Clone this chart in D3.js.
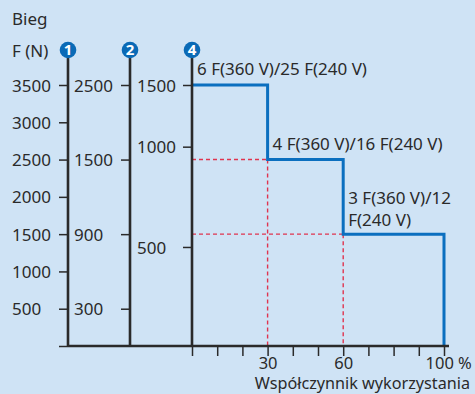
<!DOCTYPE html>
<html><head><meta charset="utf-8">
<script src="https://cdn.jsdelivr.net/npm/d3@7"></script>
<style>
html,body{margin:0;padding:0;background:#cfe3f5;}
svg{display:block;}
text{font-family:"Noto Sans",sans-serif;fill:#2a2a2a;}
</style></head><body>
<svg id="c" width="475" height="394"></svg>
<script>
// Data
const gears = ["1", "2", "4"];
const axis1Ticks = [0, 500, 1000, 1500, 2000, 2500, 3000, 3500];           // F (N), gear 1
const axis2Ticks = [300, 900, 1500, 2500];                                  // gear 2 labels
const axis2Equiv = [500, 1500, 2500, 3500];                                 // their position on F(N) scale
const axis4Ticks = [500, 1000, 1500];                                       // gear 4 labels
const axis4Equiv = [1328, 2673, 3500];                                      // their position on F(N) scale
const stepFrom   = [0, 30, 60];                                             // utilisation %
const stepTo     = [30, 60, 100];
const stepForce  = [3500, 2500, 1500];                                      // F (N)
const stepLabels = [["6 F(360 V)/25 F(240 V)"], ["4 F(360 V)/16 F(240 V)"], ["3 F(360 V)/12", "F(240 V)"]];
const xTicks = d3.range(0, 101, 10);
const xLabels = {30: "30", 60: "60", 100: "100 %"};

const svg = d3.select("#c");
const fs = 17;
const fmt = d3.format("d");
const yF = d3.scaleLinear().domain([0, 3500]).range([346, 85]);
const x = d3.scaleLinear().domain([0, 100]).range([192, 444]);
const gx = d3.scalePoint().domain(gears).range([68, 192]);
const y2 = d3.scaleLinear().domain([0].concat(axis2Ticks)).range([yF(0)].concat(axis2Equiv.map(yF)));
const y4 = d3.scaleLinear().domain(axis4Ticks).range(axis4Equiv.map(yF));

const ink = "#2a2a2a";

// red dashed guides
const guideG = svg.append("g");
[1, 2].forEach(i => {
  guideG.append("line").attr("x1", x(0)).attr("x2", x(stepFrom[i])).attr("y1", yF(stepForce[i])).attr("y2", yF(stepForce[i]));
  guideG.append("line").attr("x1", x(stepFrom[i])).attr("x2", x(stepFrom[i])).attr("y1", yF(stepForce[i])).attr("y2", yF(0));
});
guideG.selectAll("line").attr("stroke", "#e0344f").attr("stroke-width", 1.4).attr("stroke-dasharray", "4,3");

// step line
const pts = [];
stepFrom.forEach((f, i) => { pts.push([x(f), yF(stepForce[i])]); pts.push([x(stepTo[i]), yF(stepForce[i])]); });
pts.push([x(100), yF(0)]);
svg.append("path").attr("d", d3.line()(pts)).attr("fill", "none").attr("stroke", "#0b6fbf").attr("stroke-width", 3);

// gear axis lines
gears.forEach(g => {
  svg.append("line").attr("x1", gx(g)).attr("x2", gx(g)).attr("y1", 50).attr("y2", yF(0) + 1)
    .attr("stroke", ink).attr("stroke-width", 2.6);
});

function styleAxis(g, labelX) {
  g.select(".domain").remove();
  g.selectAll(".tick line").attr("stroke", ink).attr("stroke-width", 1.5);
  g.selectAll(".tick text").attr("text-anchor", "start").attr("x", labelX).attr("dy", "0.36em")
    .style("font-size", fs + "px").style("font-family", '"Noto Sans",sans-serif').attr("fill", ink);
}
// axis 1
const a1 = svg.append("g").attr("transform", `translate(${gx("1")},0)`)
  .call(d3.axisLeft(yF).tickValues(axis1Ticks).tickSize(9).tickFormat(d => d === 0 ? "" : fmt(d)));
styleAxis(a1, 12 - gx("1"));
// axis 2
const a2 = svg.append("g").attr("transform", `translate(${gx("2")},0)`)
  .call(d3.axisLeft(y2).tickValues(axis2Ticks).tickSize(9).tickFormat(fmt));
styleAxis(a2, 74 - gx("2"));
// axis 4
const a4 = svg.append("g").attr("transform", `translate(${gx("4")},0)`)
  .call(d3.axisLeft(y4).tickValues(axis4Ticks).tickSize(9).tickFormat(fmt));
styleAxis(a4, 137 - gx("4"));

// baseline
svg.append("line").attr("x1", gx("1")).attr("x2", x(100) + 5).attr("y1", yF(0)).attr("y2", yF(0))
  .attr("stroke", ink).attr("stroke-width", 2.6);

// x axis
const ax = svg.append("g").attr("transform", `translate(0,${yF(0)})`)
  .call(d3.axisBottom(x).tickValues(xTicks).tickSize(10).tickFormat(d => xLabels[d] || ""));
ax.select(".domain").remove();
ax.selectAll(".tick line").attr("stroke", ink).attr("stroke-width", 1.5);
ax.selectAll(".tick text").attr("y", 11).attr("dy", "0.71em").style("font-size", "16.5px")
  .style("font-family", '"Noto Sans",sans-serif').attr("fill", ink)
  .attr("text-anchor", d => d === 100 ? "start" : "middle").attr("x", d => d === 100 ? -19 : 0);

svg.append("text").attr("x", 470).attr("y", 389).attr("text-anchor", "end").style("font-size", "16.2px")
  .text("Współczynnik wykorzystania");

// headers
svg.append("text").attr("x", 12).attr("y", 25).style("font-size", fs + "px").text("Bieg");
svg.append("text").attr("x", 12).attr("y", 56.5).style("font-size", fs + "px").text("F (N)");

// gear badges
gears.forEach(g => {
  svg.append("circle").attr("cx", gx(g)).attr("cy", 50).attr("r", 8.3).attr("fill", "#0a6ab6");
  svg.append("text").attr("x", gx(g)).attr("y", 50).attr("dy", "0.36em").attr("text-anchor", "middle")
    .style("font-size", "15px").style("font-weight", "bold").style("fill", "#fff").text(g);
});

// step labels
const labelPos = [[x(0) + 5, 75], [x(30) + 5, 150], [x(60) + 5, 204]];
stepLabels.forEach((lines, i) => {
  const t = svg.append("text").attr("x", labelPos[i][0]).attr("y", labelPos[i][1]).style("font-size", fs + "px");
  lines.forEach((l, j) => t.append("tspan").attr("x", labelPos[i][0]).attr("dy", j === 0 ? 0 : "1.27em").text(l));
});
</script>
</body></html>
